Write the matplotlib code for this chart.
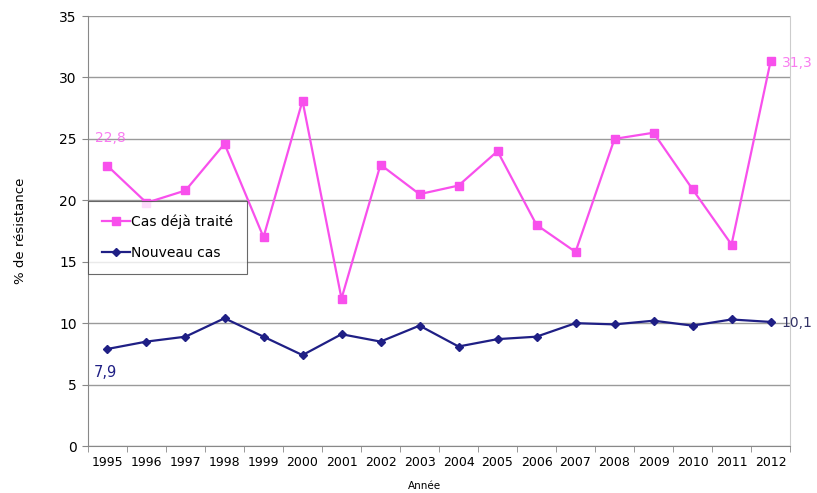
import matplotlib
matplotlib.use("Agg")
import matplotlib.pyplot as plt
import numpy as np

years = [str(y) for y in range(1995, 2013)]
deja_traite = [22.8, 19.8, 20.8, 24.6, 17.0, 28.1, 12.0, 22.9, 20.5, 21.2,
               24.0, 18.0, 15.8, 25.0, 25.5, 20.9, 16.4, 31.3]
nouveau_cas = [7.9, 8.5, 8.9, 10.4, 8.9, 7.4, 9.1, 8.5, 9.8, 8.1,
               8.7, 8.9, 10.0, 9.9, 10.2, 9.8, 10.3, 10.1]
yticks = [0, 5, 10, 15, 20, 25, 30, 35]

PINK = "#F850EC"
NAVY = "#1F1F85"

fig = plt.figure(figsize=(8.17, 4.93), dpi=100)
ax = fig.add_axes([0.1077, 0.0953, 0.8593, 0.8722])

x = np.arange(len(years))
ax.plot(x, deja_traite, color=PINK, lw=1.6, marker="s", ms=5.5,
        label="Cas déjà traité")
ax.plot(x, nouveau_cas, color=NAVY, lw=1.6, marker="D", ms=4.5,
        label="Nouveau cas")

ax.set_xlim(-0.5, len(years) - 0.5)
ax.set_ylim(0, 35)
ax.set_yticks(yticks)
ax.set_yticklabels([str(v) for v in yticks], fontsize=10)
ax.set_xticks(x)
ax.set_xticklabels(years, fontsize=9)
ax.set_xticks(np.arange(-0.5, len(years), 1), minor=True)
ax.tick_params(axis="x", which="major", length=0, pad=7)
ax.tick_params(axis="x", which="minor", length=4, color="#888888")
ax.tick_params(axis="y", length=4, color="#888888", pad=4)

ax.yaxis.grid(True, color="#9a9a9a", lw=1.0)
ax.set_axisbelow(True)
ax.spines["top"].set_visible(False)
ax.spines["left"].set_color("#888888")
ax.spines["bottom"].set_color("#888888")
ax.spines["right"].set_color("#cccccc")

# value labels on first and last points
def fr(v):
    return f"{v:.1f}".replace(".", ",")

ax.annotate(fr(deja_traite[0]), (x[0], deja_traite[0]),
            xytext=(-9, 17), textcoords="offset points", color=PINK,
            fontsize=10, alpha=0.75)
ax.annotate(fr(deja_traite[-1]), (x[-1], deja_traite[-1]),
            xytext=(8, -4), textcoords="offset points", color=PINK,
            fontsize=10, alpha=0.75)
ax.annotate(fr(nouveau_cas[0]), (x[0], nouveau_cas[0]),
            xytext=(-10, -20), textcoords="offset points", color=NAVY,
            fontsize=10.5)
ax.annotate(fr(nouveau_cas[-1]), (x[-1], nouveau_cas[-1]),
            xytext=(8, -4), textcoords="offset points", color="#333366",
            fontsize=10)

ax.set_ylabel("% de résistance", fontsize=9.5, labelpad=23)
fig.text(0.519, 0.005, "Année", fontsize=7.5, ha="center", va="bottom")

leg = ax.legend(loc="upper left", bbox_to_anchor=(0.0, 0.57), fontsize=10,
                frameon=True, fancybox=False, borderpad=1.0, labelspacing=1.2,
                handlelength=2.0, handletextpad=0.1, borderaxespad=0)
leg.get_frame().set_edgecolor("#444444")
leg.get_frame().set_linewidth(0.8)

fig.savefig("out.png", dpi=100)
